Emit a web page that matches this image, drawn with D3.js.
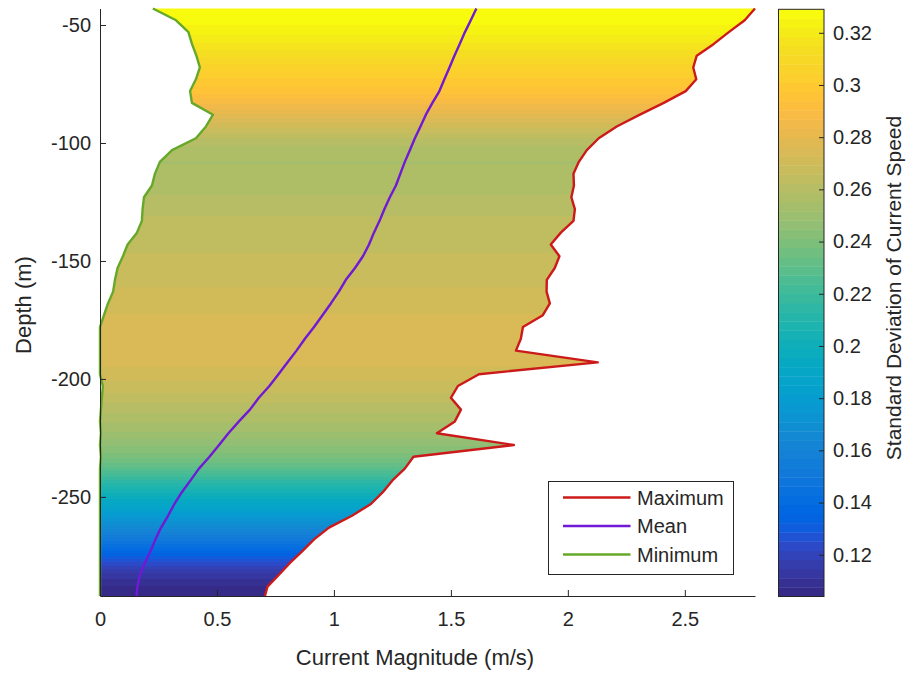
<!DOCTYPE html>
<html>
<head>
<meta charset="utf-8">
<script src="https://cdn.jsdelivr.net/npm/d3@7/dist/d3.min.js"></script>
<style>
  html, body { margin: 0; padding: 0; background: #fff; }
  svg { display: block; }
  text { font-family: "Liberation Sans", Arial, Helvetica, sans-serif; fill: #262626; }
</style>
</head>
<body>
<svg id="chart" width="909" height="675"></svg>
<script>
// Depth bins (m) and current speed statistics per bin (m/s)
const depth = [-43,-48,-53,-58,-63,-68,-73,-78,-83,-88,-93,-98,-103,-108,-113,-118,-123,-128,-133,-138,
  -143,-148,-153,-158,-163,-168,-173,-178,-183,-188,-193,-198,-203,-208,-213,-218,-223,-228,-233,-238,
  -243,-248,-253,-258,-263,-268,-273,-278,-283,-288,-292];

const speedMin = [0.226,0.325,0.378,0.393,0.412,0.427,0.41,0.385,0.393,0.483,0.453,0.41,0.308,0.256,0.235,0.222,0.188,0.182,0.179,0.158,
  0.118,0.098,0.075,0.064,0.056,0.034,0.017,0,0,0,0,0,0.012,0.008,0.004,0,0.004,0,0.004,0,
  0,0,0,0,0,0,0,0,0,0,0];

const speedMean = [1.609,1.585,1.560,1.538,1.515,1.494,1.472,1.451,1.421,1.393,1.370,1.346,1.325,1.303,1.284,1.265,1.239,1.216,1.195,1.171,
  1.150,1.124,1.090,1.051,1.021,0.987,0.951,0.915,0.876,0.840,0.801,0.763,0.724,0.679,0.641,0.594,0.549,0.509,0.468,0.423,
  0.387,0.350,0.318,0.291,0.261,0.237,0.216,0.192,0.171,0.160,0.156];

const speedMax = [2.800,2.756,2.688,2.624,2.551,2.536,2.549,2.504,2.410,2.308,2.209,2.132,2.081,2.047,2.024,2.026,2.015,2.030,2.024,1.970,
  1.927,1.964,1.944,1.910,1.909,1.923,1.893,1.808,1.799,1.778,2.128,1.620,1.530,1.500,1.543,1.517,1.440,1.769,1.340,1.303,
  1.250,1.209,1.158,1.077,0.979,0.915,0.865,0.812,0.765,0.716,0.705];

const speedStd = [0.329,0.327,0.323,0.318,0.312,0.306,0.300,0.296,0.288,0.279,0.270,0.262,0.257,0.255,0.256,0.257,0.259,0.261,0.263,0.264,
  0.265,0.266,0.267,0.268,0.270,0.271,0.273,0.275,0.276,0.276,0.274,0.271,0.268,0.264,0.260,0.256,0.251,0.245,0.239,0.229,
  0.216,0.203,0.190,0.178,0.165,0.152,0.138,0.124,0.113,0.107,0.104];

const xTicks = [0, 0.5, 1, 1.5, 2, 2.5];
const yTicks = [-250, -200, -150, -100, -50];
const cbTicks = [0.12, 0.14, 0.16, 0.18, 0.2, 0.22, 0.24, 0.26, 0.28, 0.3, 0.32];

const seriesNames = ["Maximum", "Mean", "Minimum"];
const seriesColors = ["#cc1a1a", "#7019d6", "#66a82a"];

// 64-entry parula colormap
const parula = [
[0.2081,0.1663,0.5292],[0.2116,0.1898,0.5777],[0.2123,0.2138,0.6270],[0.2081,0.2386,0.6771],
[0.1959,0.2645,0.7279],[0.1707,0.2919,0.7792],[0.1253,0.3242,0.8303],[0.0591,0.3598,0.8683],
[0.0117,0.3875,0.8820],[0.0060,0.4086,0.8828],[0.0165,0.4266,0.8786],[0.0329,0.4430,0.8720],
[0.0498,0.4586,0.8641],[0.0629,0.4737,0.8554],[0.0723,0.4887,0.8467],[0.0779,0.5040,0.8384],
[0.0793,0.5200,0.8312],[0.0749,0.5375,0.8263],[0.0641,0.5570,0.8240],[0.0488,0.5772,0.8228],
[0.0343,0.5966,0.8199],[0.0265,0.6137,0.8135],[0.0239,0.6287,0.8038],[0.0231,0.6418,0.7913],
[0.0228,0.6535,0.7768],[0.0267,0.6642,0.7607],[0.0384,0.6743,0.7436],[0.0590,0.6838,0.7254],
[0.0843,0.6928,0.7062],[0.1133,0.7015,0.6859],[0.1453,0.7098,0.6646],[0.1801,0.7177,0.6424],
[0.2178,0.7250,0.6193],[0.2586,0.7317,0.5954],[0.3022,0.7376,0.5712],[0.3482,0.7424,0.5473],
[0.3953,0.7459,0.5244],[0.4420,0.7481,0.5033],[0.4871,0.7491,0.4840],[0.5300,0.7491,0.4661],
[0.5709,0.7485,0.4494],[0.6099,0.7473,0.4337],[0.6473,0.7456,0.4188],[0.6834,0.7435,0.4044],
[0.7184,0.7411,0.3905],[0.7525,0.7384,0.3768],[0.7858,0.7356,0.3633],[0.8185,0.7327,0.3498],
[0.8507,0.7299,0.3360],[0.8824,0.7274,0.3217],[0.9139,0.7258,0.3063],[0.9450,0.7261,0.2886],
[0.9739,0.7314,0.2666],[0.9938,0.7455,0.2403],[0.9990,0.7653,0.2164],[0.9955,0.7861,0.1967],
[0.9880,0.8066,0.1794],[0.9789,0.8271,0.1633],[0.9697,0.8481,0.1475],[0.9626,0.8705,0.1309],
[0.9589,0.8949,0.1132],[0.9598,0.9218,0.0948],[0.9661,0.9514,0.0755],[0.9763,0.9831,0.0538]
].map(c => d3.rgb(c[0] * 255, c[1] * 255, c[2] * 255).formatHex());

const rows = depth.map((d, i) => ({
  depth: d, min: speedMin[i], mean: speedMean[i], max: speedMax[i], std: speedStd[i]
}));

const svg = d3.select("#chart");
const ink = "#262626";

const x = d3.scaleLinear().domain([0, 2.8]).range([100, 755]);
const y = d3.scaleLinear().domain([-292, -43]).range([596, 8.5]);

// colour limits follow the data range; indexed lookup into the 64-colour map
const stdExtent = d3.extent(speedStd);
const cIndex = d3.scaleQuantize().domain(stdExtent).range(d3.range(parula.length));
const colorOf = v => parula[cIndex(Math.max(stdExtent[0], Math.min(stdExtent[1], v)))];

// std at an arbitrary depth, linear between bins
const stdAt = d3.scaleLinear().domain(depth).range(speedStd).clamp(true);

// ---- filled envelope between min and max, shaded by std ----
const area = d3.area()
  .y(d => y(d.depth))
  .x0(d => x(d.min))
  .x1(d => x(d.max));

svg.append("clipPath").attr("id", "envelope")
  .append("path").attr("d", area(rows));

const yTop = Math.floor(y.range()[1]);
const yBot = Math.ceil(y.range()[0]);
const bands = d3.range(yTop, yBot).map(py => ({ py, c: colorOf(stdAt(y.invert(py + 0.5))) }));

svg.append("g").attr("clip-path", "url(#envelope)")
  .selectAll("rect").data(bands).join("rect")
  .attr("x", x(0)).attr("width", x(2.8) - x(0))
  .attr("y", d => d.py).attr("height", 1.02)
  .attr("fill", d => d.c)
  .attr("shape-rendering", "crispEdges");

// ---- lines ----
const lineOf = key => d3.line().x(d => x(d[key])).y(d => y(d.depth));
const keys = ["max", "mean", "min"];
keys.forEach((k, i) => {
  svg.append("path")
    .attr("d", lineOf(k)(rows))
    .attr("fill", "none")
    .attr("stroke", seriesColors[i])
    .attr("stroke-width", 2.4)
    .attr("stroke-linejoin", "round");
});

// ---- axes ----
function styleAxis(g) {
  g.select(".domain").attr("stroke", ink).attr("stroke-width", 1);
  g.selectAll(".tick line").attr("stroke", ink).attr("stroke-width", 1);
  g.selectAll(".tick text").attr("font-size", 20).attr("fill", ink)
    .attr("font-family", "Liberation Sans, Arial, sans-serif");
}

svg.append("g")
  .attr("transform", `translate(0,${y.range()[0]})`)
  .call(d3.axisBottom(x).tickValues(xTicks).tickFormat(d => String(d))
    .tickSizeInner(-6).tickSizeOuter(0).tickPadding(16))
  .call(styleAxis);

svg.append("g")
  .attr("transform", `translate(${x.range()[0]},0)`)
  .call(d3.axisLeft(y).tickValues(yTicks).tickFormat(d => String(d))
    .tickSizeInner(-6).tickSizeOuter(0).tickPadding(9))
  .call(styleAxis);

svg.append("text")
  .attr("x", 415).attr("y", 665)
  .attr("text-anchor", "middle").attr("font-size", 22)
  .text("Current Magnitude (m/s)");

svg.append("text")
  .attr("transform", "translate(31,305) rotate(-90)")
  .attr("text-anchor", "middle").attr("font-size", 22)
  .text("Depth (m)");

// ---- legend ----
const lg = svg.append("g").attr("transform", "translate(548.5,481.5)");
lg.append("rect").attr("width", 185).attr("height", 93)
  .attr("fill", "#fff").attr("stroke", ink).attr("stroke-width", 1);
seriesNames.forEach((name, i) => {
  const cy = 16 + i * 28.5;
  lg.append("line").attr("x1", 14.5).attr("x2", 82)
    .attr("y1", cy).attr("y2", cy)
    .attr("stroke", seriesColors[i]).attr("stroke-width", 2.4);
  lg.append("text").attr("x", 88.5).attr("y", cy + 7)
    .attr("font-size", 20).text(name);
});

// ---- colorbar ----
const cbX = 778, cbW = 46;
const cb = d3.scaleLinear().domain(stdExtent).range([596.5, 9.3]);
const step = (stdExtent[1] - stdExtent[0]) / parula.length;
const cbG = svg.append("g");
cbG.selectAll("rect").data(parula).join("rect")
  .attr("x", cbX).attr("width", cbW)
  .attr("y", (c, i) => cb(stdExtent[0] + (i + 1) * step))
  .attr("height", (c, i) => cb(stdExtent[0] + i * step) - cb(stdExtent[0] + (i + 1) * step) + 0.4)
  .attr("fill", c => c);
cbG.append("rect")
  .attr("x", cbX + 0.5).attr("y", cb.range()[1])
  .attr("width", cbW - 0.5).attr("height", cb.range()[0] - cb.range()[1])
  .attr("fill", "none").attr("stroke", ink).attr("stroke-width", 1);

svg.append("g")
  .attr("transform", `translate(${cbX + cbW},0)`)
  .call(d3.axisRight(cb).tickValues(cbTicks).tickFormat(d => String(d))
    .tickSizeInner(-5).tickSizeOuter(0).tickPadding(9))
  .call(styleAxis)
  .call(g => g.select(".domain").remove());

svg.append("text")
  .attr("transform", "translate(901,288) rotate(-90)")
  .attr("text-anchor", "middle").attr("font-size", 21)
  .text("Standard Deviation of Current Speed");
</script>
</body>
</html>
